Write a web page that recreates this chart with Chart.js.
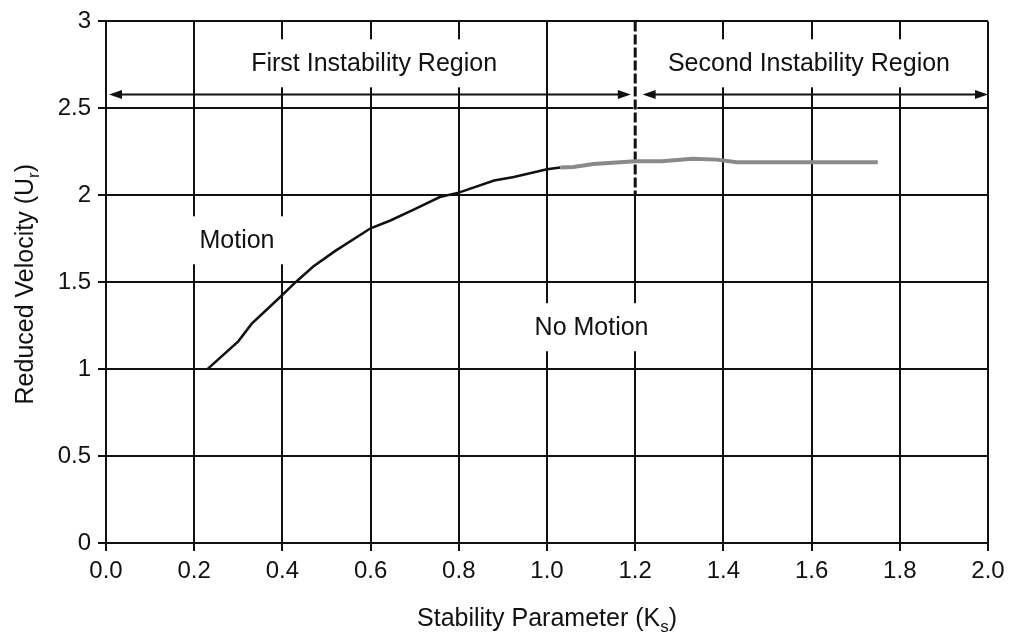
<!DOCTYPE html>
<html>
<head>
<meta charset="utf-8">
<script src="https://cdn.jsdelivr.net/npm/chart.js@4/dist/chart.umd.min.js"></script>
<style>
html,body{margin:0;padding:0;background:#fff;}
#wrap{width:1012px;height:636px;}
</style>
</head>
<body>
<div id="wrap"><canvas id="c" width="1012" height="636"></canvas></div>
<script>
// ---- data ----
const xTickLabels = ['0.0','0.2','0.4','0.6','0.8','1.0','1.2','1.4','1.6','1.8','2.0'];
const yTickLabels = ['0','0.5','1','1.5','2','2.5','3'];

const ksFirst = [0.23, 0.30, 0.33, 0.395, 0.43, 0.47, 0.52, 0.60, 0.645, 0.70, 0.757, 0.80, 0.88, 0.925, 1.0, 1.03];
const urFirst = [1.00, 1.16, 1.26, 1.415, 1.50, 1.59, 1.68, 1.81, 1.855, 1.92, 1.99, 2.015, 2.085, 2.105, 2.15, 2.16];

const ksSecond = [1.03, 1.06, 1.105, 1.20, 1.26, 1.33, 1.385, 1.43, 1.75];
const urSecond = [2.16, 2.163, 2.18, 2.195, 2.195, 2.21, 2.205, 2.19, 2.19];

const regionLabels = ['First Instability Region', 'Second Instability Region', 'Motion', 'No Motion'];
const regionLabelKs = [0.608, 1.594, 0.297, 1.101];
const regionLabelUr = [2.759, 2.759, 1.741, 1.241];

const boundaryKs = 1.2;       // dashed boundary between regions
const boundaryUrRange = [2.0, 3.0];
const arrowUr = 2.58;
const arrowSpans = [[0.0, 1.19], [1.21, 2.0]];

const xTitle = ['Stability Parameter (K', 's', ')'];
const yTitle = ['Reduced Velocity (U', 'r', ')'];

// ---- build ----
function pts(xs, ys){ return xs.map((x,i)=>({x:x, y:ys[i]})); }

const FONT = '"Liberation Sans", Arial, Helvetica, sans-serif';
const INK = '#111';

function drawSubText(ctx, parts, x, y, size){
  const big = size + 'px ' + FONT;
  const small = Math.round(size*0.68) + 'px ' + FONT;
  ctx.font = big; const w0 = ctx.measureText(parts[0]).width; const w2 = ctx.measureText(parts[2]).width;
  ctx.font = small; const w1 = ctx.measureText(parts[1]).width;
  let sx = x - (w0+w1+w2)/2;
  ctx.textAlign = 'left'; ctx.textBaseline = 'alphabetic';
  ctx.font = big; ctx.fillText(parts[0], sx, y); sx += w0;
  ctx.font = small; ctx.fillText(parts[1], sx, y + size*0.25); sx += w1;
  ctx.font = big; ctx.fillText(parts[2], sx, y);
}

function arrowHead(ctx, x, y, dir){
  ctx.beginPath();
  ctx.moveTo(x, y);
  ctx.lineTo(x - dir*13, y - 4.5);
  ctx.lineTo(x - dir*13, y + 4.5);
  ctx.closePath();
  ctx.fill();
}

const overlay = {
  id: 'overlay',
  beforeDatasetsDraw(chart){
    const ctx = chart.ctx, xs = chart.scales.x, ys = chart.scales.y;
    ctx.save();
    // label boxes (white, interrupt grid)
    ctx.font = '25px ' + FONT;
    regionLabels.forEach((t,i)=>{
      const cx = xs.getPixelForValue(regionLabelKs[i]);
      const cy = ys.getPixelForValue(regionLabelUr[i]);
      const w = ctx.measureText(t).width + 26;
      const h = 48;
      ctx.fillStyle = '#fff';
      ctx.fillRect(cx - w/2, cy - h/2, w, h);
      ctx.fillStyle = INK;
      ctx.textAlign = 'center'; ctx.textBaseline = 'middle';
      ctx.fillText(t, cx, cy + 1);
    });
    // dashed boundary
    const bx = xs.getPixelForValue(boundaryKs);
    const by1 = ys.getPixelForValue(boundaryUrRange[1]);
    const by0 = ys.getPixelForValue(boundaryUrRange[0]);
    ctx.strokeStyle = '#fff'; ctx.lineWidth = 4;
    ctx.beginPath(); ctx.moveTo(bx, by1 + 2); ctx.lineTo(bx, by0 - 2); ctx.stroke();
    ctx.strokeStyle = INK; ctx.lineWidth = 3; ctx.setLineDash([10, 3]);
    ctx.beginPath(); ctx.moveTo(bx, by1); ctx.lineTo(bx, by0); ctx.stroke();
    ctx.setLineDash([]);
    // arrows
    const ay = ys.getPixelForValue(arrowUr);
    ctx.strokeStyle = INK; ctx.fillStyle = INK; ctx.lineWidth = 2;
    arrowSpans.forEach(s=>{
      const x1 = xs.getPixelForValue(s[0]) + 3, x2 = xs.getPixelForValue(s[1]);
      ctx.beginPath(); ctx.moveTo(x1 + 4, ay); ctx.lineTo(x2 - 4, ay); ctx.stroke();
      arrowHead(ctx, x1, ay, -1);
      arrowHead(ctx, x2, ay, 1);
    });
    ctx.restore();
  },
  afterDraw(chart){
    const ctx = chart.ctx, a = chart.chartArea;
    ctx.save();
    ctx.fillStyle = INK;
    drawSubText(ctx, xTitle, (a.left + a.right)/2, 626, 25);
    ctx.translate(33, (a.top + a.bottom)/2 + 2);
    ctx.rotate(-Math.PI/2);
    drawSubText(ctx, yTitle, 0, 0, 25);
    ctx.restore();
  }
};

new Chart(document.getElementById('c'), {
  type: 'scatter',
  data: {
    datasets: [
      { data: pts(ksSecond, urSecond), showLine: true, borderColor: '#8a8a8a', borderWidth: 4, pointRadius: 0, tension: 0 },
      { data: pts(ksFirst, urFirst), showLine: true, borderColor: INK, borderWidth: 2.5, pointRadius: 0, tension: 0 }
    ]
  },
  options: {
    responsive: false,
    animation: false,
    devicePixelRatio: 1,
    layout: { padding: { top: 21, right: 24, left: 0, bottom: 0 } },
    plugins: { legend: { display: false }, tooltip: { enabled: false } },
    scales: {
      x: {
        type: 'linear', min: 0, max: 2,
        afterFit(s){ s.height = 93; },
        ticks: { stepSize: 0.2, color: INK, font: { family: FONT, size: 24 }, padding: 6, maxRotation: 0,
          callback: (v, i) => xTickLabels[i] },
        grid: { color: INK, lineWidth: 2, tickLength: 8 },
        border: { color: INK, width: 2 }
      },
      y: {
        type: 'linear', min: 0, max: 3,
        afterFit(s){ s.width = 106; },
        ticks: { stepSize: 0.5, color: INK, font: { family: FONT, size: 24 }, padding: 7,
          callback: (v, i) => yTickLabels[i] },
        grid: { color: INK, lineWidth: 2, tickLength: 8 },
        border: { color: INK, width: 2 }
      }
    }
  },
  plugins: [overlay]
});
</script>
</body>
</html>
